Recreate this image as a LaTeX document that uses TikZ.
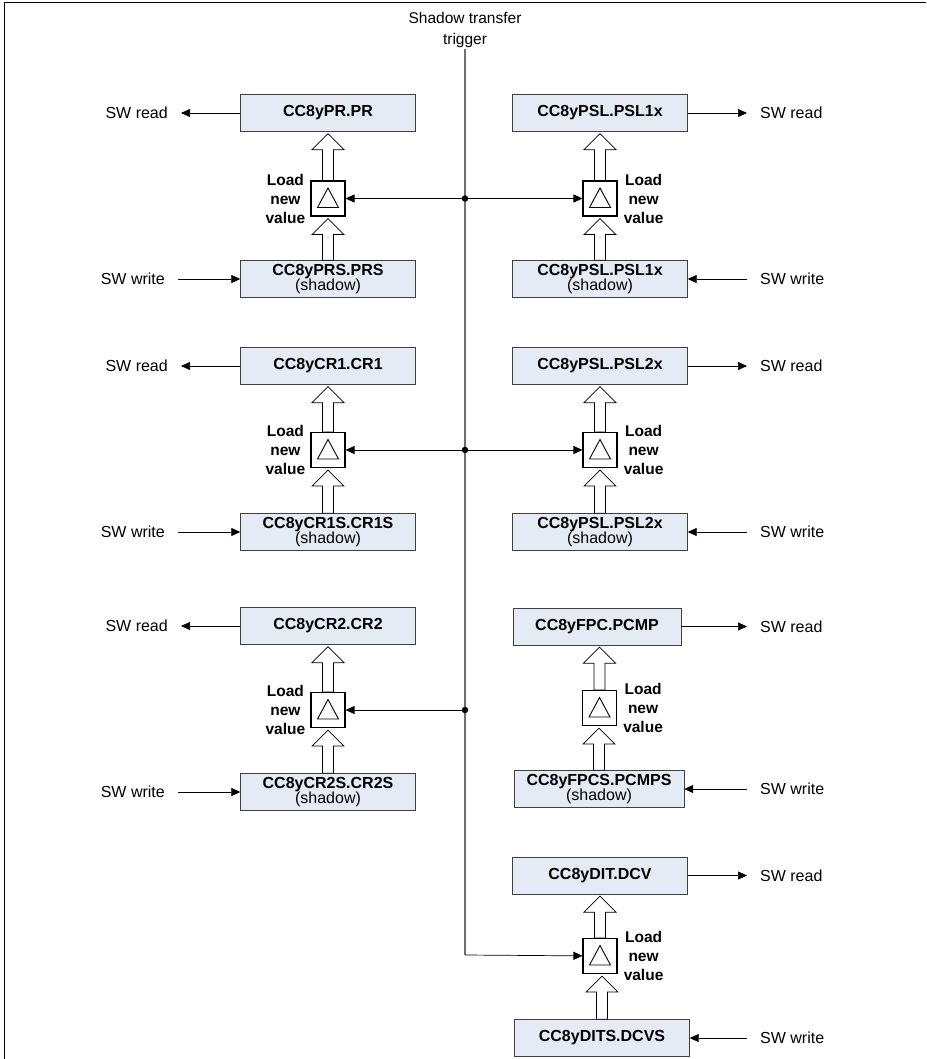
\documentclass[tikz,border=0pt]{standalone}
\usepackage{fontspec}
\setmainfont{Liberation Sans}
\usetikzlibrary{positioning,arrows.meta,calc}
\definecolor{regfill}{HTML}{E4EBF5}
\definecolor{trigline}{HTML}{707070}

% hollow transfer arrow from the top of #1 up to the bottom of #2
\newcommand{\loadarrow}[2]{%
  \draw[hollow] let \p1=(#1.north), \p2=(#2.south) in
    ({\x1-5.5pt},\y1) -- ({\x1-5.5pt},{\y2-18pt}) -- ({\x1-16pt},{\y2-18pt})
    -- (\x1,{\y2-2pt}) -- ({\x1+16pt},{\y2-18pt}) -- ({\x1+5.5pt},{\y2-18pt})
    -- ({\x1+5.5pt},\y1) -- cycle;}
% open triangle inside a load box
\newcommand{\loadtri}[1]{%
  \draw[line width=0.9pt] ([shift={(-10.5,9)}]#1.center) -- ([shift={(10.5,9)}]#1.center)
    -- ([shift={(0,-10.5)}]#1.center) -- cycle;}

\begin{document}
\begin{tikzpicture}[
    x=1pt, y=-1pt,
    font=\fontsize{16}{18}\selectfont,
    reg/.style={draw=black!75, fill=regfill, minimum width=175pt, minimum height=37pt,
                inner sep=1pt, align=center, font=\fontsize{16}{15}\selectfont\bfseries},
    trig/.style={draw=black, line width=1.1pt, fill=white, minimum width=34pt,
                 minimum height=35pt, inner sep=0pt},
    loadtxt/.style={font=\fontsize{15.5}{19}\selectfont\bfseries, align=center, inner sep=0pt},
    io/.style={inner ysep=0pt, inner xsep=13pt},
    rw/.style={-{Triangle[length=9pt,width=8pt]}, line width=0.7pt},
    hollow/.style={draw=black, fill=white, line width=0.7pt},
    bus/.style={draw=trigline, line width=1.4pt},
    dot/.style={circle, fill=black, inner sep=0pt, minimum size=6.5pt}
]
    \useasboundingbox (0,0) rectangle (926,1059);
    \draw[line width=1pt] (4,1059) -- (4,3) -- (926,3);

    % trigger
    \node[align=center, inner sep=1pt, font=\fontsize{15.5}{21}\selectfont] (trg) at (465,30) {Shadow transfer\\trigger};
    \coordinate (cnr) at (465,955);
    \draw[bus] (trg.south) -- (cnr);

    % --- left column ---
    \node[reg] (pr) at (328,113) {CC8yPR.PR};
    \node[trig] (tpr) at (328,198.5) {};
    \node[reg] (prs) at (328,279) {CC8yPRS.PRS\\{\normalfont (shadow)}};
    \node[loadtxt, left=5pt of tpr] {Load\\new\\value};

    \node[reg] (cr1) at (328,366) {CC8yCR1.CR1};
    \node[trig] (tcr1) at (328,450) {};
    \node[reg] (cr1s) at (328,532) {CC8yCR1S.CR1S\\{\normalfont (shadow)}};
    \node[loadtxt, left=5pt of tcr1] {Load\\new\\value};

    \node[reg] (cr2) at (328,626) {CC8yCR2.CR2};
    \node[trig] (tcr2) at (328,710) {};
    \node[reg] (cr2s) at (328,792) {CC8yCR2S.CR2S\\{\normalfont (shadow)}};
    \node[loadtxt, left=5pt of tcr2] {Load\\new\\value};

    % --- right column ---
    \node[reg] (psl1) at (600,113) {CC8yPSL.PSL1x};
    \node[trig] (tpsl1) at (600,198.5) {};
    \node[reg] (psl1s) at (600,279) {CC8yPSL.PSL1x\\{\normalfont (shadow)}};
    \node[loadtxt, right=6pt of tpsl1] {Load\\new\\value};

    \node[reg] (psl2) at (600,366) {CC8yPSL.PSL2x};
    \node[trig] (tpsl2) at (600,450) {};
    \node[reg] (psl2s) at (600,532) {CC8yPSL.PSL2x\\{\normalfont (shadow)}};
    \node[loadtxt, right=6pt of tpsl2] {Load\\new\\value};

    \node[reg, minimum width=168pt] (fpc) at (597,626.5) {CC8yFPC.PCMP};
    \node[trig] (tfpc) at (599.5,708) {};
    \node[reg, minimum width=170pt] (fpcs) at (599,789) {CC8yFPCS.PCMPS\\{\normalfont (shadow)}};
    \node[loadtxt, right=6pt of tfpc] {Load\\new\\value};

    \node[reg] (dit) at (600,875.5) {CC8yDIT.DCV};
    \node[trig] (tdit) at (600,956) {};
    \node[reg] (dits) at (602,1038) {CC8yDITS.DCVS};
    \node[loadtxt, right=6pt of tdit] {Load\\new\\value};

    % triangles and transfer arrows
    \foreach \t in {tpr,tcr1,tcr2,tpsl1,tpsl2,tfpc,tdit} {\loadtri{\t}}
    \loadarrow{prs}{tpr}   \loadarrow{tpr}{pr}
    \loadarrow{cr1s}{tcr1} \loadarrow{tcr1}{cr1}
    \loadarrow{cr2s}{tcr2} \loadarrow{tcr2}{cr2}
    \loadarrow{psl1s}{tpsl1} \loadarrow{tpsl1}{psl1}
    \loadarrow{psl2s}{tpsl2} \loadarrow{tpsl2}{psl2}
    \loadarrow{fpcs}{tfpc} \loadarrow{tfpc}{fpc}
    \loadarrow{dits}{tdit} \loadarrow{tdit}{dit}

    % trigger branches
    \coordinate (j1) at (465,198.5);
    \coordinate (j2) at (465,450);
    \coordinate (j3) at (465,710);
    \draw[rw] (j1) -- (tpr);  \draw[rw] (j1) -- (tpsl1);
    \draw[rw] (j2) -- (tcr1); \draw[rw] (j2) -- (tpsl2);
    \draw[rw] (j3) -- (tcr2);
    \draw[rw] (cnr) -- (tdit);
    \foreach \j in {j1,j2,j3} {\node[dot] at (\j) {};}

    % software access, left
    \node[io, anchor=east] (rpr) at (181,113) {SW read};
    \node[io, anchor=east] (wprs) at (178,279) {SW write};
    \node[io, anchor=east] (rcr1) at (181,366) {SW read};
    \node[io, anchor=east] (wcr1s) at (178,532) {SW write};
    \node[io, anchor=east] (rcr2) at (181,626) {SW read};
    \node[io, anchor=east] (wcr2s) at (178,792) {SW write};
    \draw[rw] (pr) -- (rpr);    \draw[rw] (wprs) -- (prs);
    \draw[rw] (cr1) -- (rcr1);  \draw[rw] (wcr1s) -- (cr1s);
    \draw[rw] (cr2) -- (rcr2);  \draw[rw] (wcr2s) -- (cr2s);

    % software access, right
    \node[io, anchor=west] (rpsl1) at (747,113) {SW read};
    \node[io, anchor=west] (wpsl1s) at (747,279) {SW write};
    \node[io, anchor=west] (rpsl2) at (747,366) {SW read};
    \node[io, anchor=west] (wpsl2s) at (747,532) {SW write};
    \node[io, anchor=west] (rfpc) at (747,626.5) {SW read};
    \node[io, anchor=west] (wfpcs) at (747,789) {SW write};
    \node[io, anchor=west] (rdit) at (747,875.5) {SW read};
    \node[io, anchor=west] (wdits) at (747,1038) {SW write};
    \draw[rw] (psl1) -- (rpsl1); \draw[rw] (wpsl1s) -- (psl1s);
    \draw[rw] (psl2) -- (rpsl2); \draw[rw] (wpsl2s) -- (psl2s);
    \draw[rw] (fpc) -- (rfpc);   \draw[rw] (wfpcs) -- (fpcs);
    \draw[rw] (dit) -- (rdit);   \draw[rw] (wdits) -- (dits);
\end{tikzpicture}
\end{document}
